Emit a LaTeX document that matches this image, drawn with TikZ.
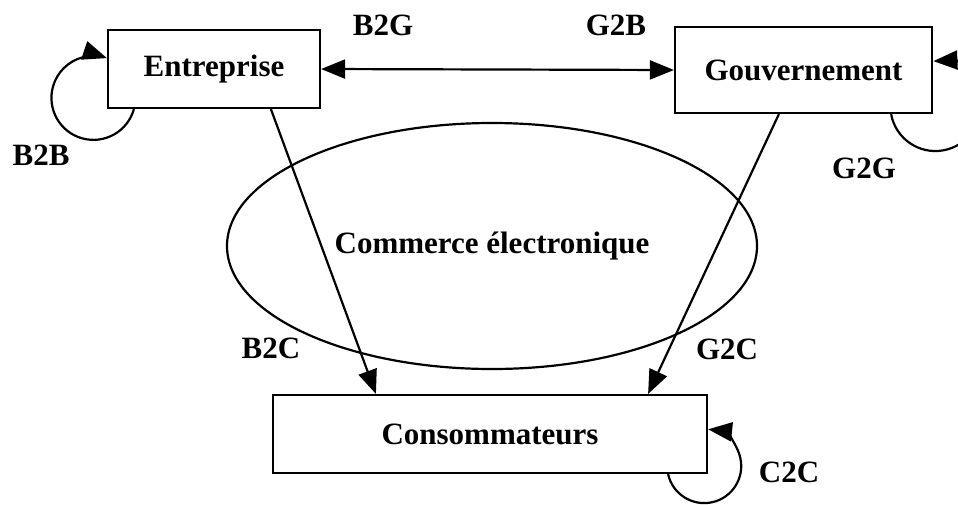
\documentclass[tikz,border=0pt]{standalone}
\usepackage{fontspec}
\setmainfont{Liberation Serif}
\usetikzlibrary{shapes.geometric, arrows.meta}

\begin{document}
\begin{tikzpicture}[x=1pt, y=1pt, >={Triangle[length=24pt, width=19pt]}]
    \tikzstyle{every node} = [font=\fontsize{31}{36}\selectfont\bfseries]
    \tikzstyle{boite}  = [draw, line width=2.2pt, inner sep=0pt]
    \tikzstyle{bulle}  = [draw, ellipse, line width=2.2pt, inner sep=0pt]
    \tikzstyle{fleche} = [line width=2.2pt, ->]

    % fond et cadre
    \path[fill=white] (0,0) rectangle (958,-504);
    \useasboundingbox (0,0) rectangle (958,-504);

    \node[bulle, minimum width=530pt, minimum height=246pt] (ecom) at (492,-246) {Commerce électronique};

    \node[boite, minimum width=212pt, minimum height=78pt] (ent)  at (214,-69)   {Entreprise};
    \node[boite, minimum width=257pt, minimum height=86pt] (gouv) at (803.5,-70) {Gouvernement};
    \node[boite, minimum width=434pt, minimum height=78pt] (cons) at (490,-434)  {Consommateurs};

    % etiquettes
    \node (bbb) at (41,-155)  {B2B};
    \node (bbg) at (383,-25)  {B2G};
    \node (bgb) at (616,-25)  {G2B};
    \node (bgg) at (864,-168) {G2G};
    \node (bbc) at (271,-348) {B2C};
    \node (bgc) at (727,-349) {G2C};
    \node (bcc) at (789,-472) {C2C};

    % liens
    \draw[fleche, <->] (ent.east) -- (gouv.west);
    \draw[fleche] ([xshift=164pt]ent.south west) -- ([xshift=104pt]cons.north west);
    \draw[fleche] ([xshift=105pt]gouv.south west) -- ([xshift=-60pt]cons.north east);

    % boucles
    \draw[fleche] ([xshift=27pt]ent.south west) arc[start angle=-15.5, end angle=-288.7, radius=42pt];
    \draw[fleche] ([xshift=-42pt]gouv.south east) arc[start angle=190.3, end angle=452.5, radius=45pt];
    \draw[fleche] ([xshift=-40pt]cons.south east) arc[start angle=192.5, end angle=444, radius=37pt];
\end{tikzpicture}
\end{document}
